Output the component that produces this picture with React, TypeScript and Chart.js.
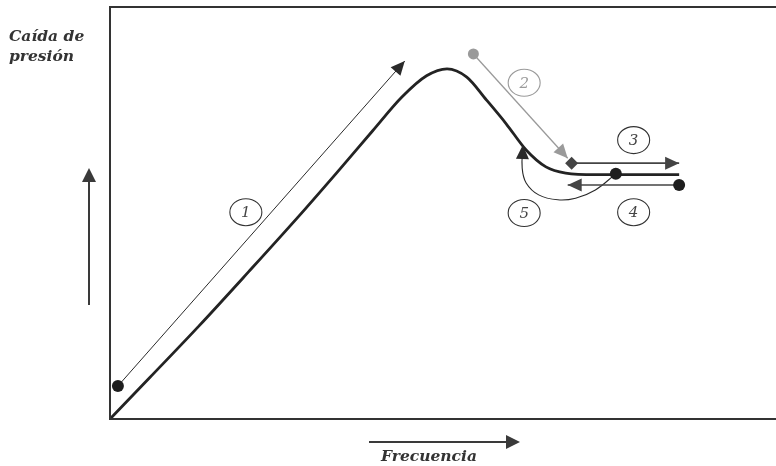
import React, { useEffect, useRef } from "react";
import { Chart, registerables } from "chart.js";

Chart.register(...registerables);

// Main curve: pressure drop vs. frequency (schematic units 0-100)
const curveFreq = [0, 6.0, 13.5, 21.0, 28.5, 34.5, 39.8, 44.3, 48.0, 51.1, 54.1, 57.1, 60.1, 63.1, 66.1, 69.1, 73.6, 86.3];
const curvePressure = [0, 10.0, 22.6, 35.7, 49.0, 60.0, 69.9, 78.2, 83.3, 85.0, 83.0, 77.4, 71.6, 65.3, 61.2, 59.7, 59.3, 59.3];

// Arrow 1 (start dot -> tip)
const arrow1Freq = [1.2, 44.7];
const arrow1Pressure = [8.0, 86.9];
// Arrow 2 (gray)
const arrow2Freq = [55.1, 69.4];
const arrow2Pressure = [88.6, 63.3];
// Arrow 3
const arrow3Freq = [70.0, 86.3];
const arrow3Pressure = [62.1, 62.1];
// Arrow 4
const arrow4Freq = [86.3, 69.4];
const arrow4Pressure = [56.8, 56.8];
// Arrow 5 (curved)
const arrow5Freq = [76.7, 73.6, 70.6, 67.9, 65.0, 63.1, 62.5, 62.6];
const arrow5Pressure = [59.5, 55.6, 53.6, 53.2, 54.4, 57.3, 60.9, 66.5];

// Black dots
const dotFreq = [1.2, 76.7, 86.3];
const dotPressure = [8.0, 59.5, 56.8];

// Step labels
const labelNames = ["1", "2", "3", "4", "5"];
const labelFreq = [20.6, 62.8, 79.4, 79.4, 62.8];
const labelPressure = [50.2, 81.6, 67.7, 50.2, 50.0];
const labelGray = [false, true, false, false, false];

const yTitle = ["Caída de", "presión"];
const xTitle = "Frecuencia";

const pts = (xs: number[], ys: number[]) => xs.map((x, i) => ({ x, y: ys[i] }));

const DARK = "#2a2a2a";
const GRAY = "#9a9a9a";
const MID = "#444444";

function head(ctx: CanvasRenderingContext2D, fx: number, fy: number, tx: number, ty: number, color: string, len = 14, hw = 6.5) {
  const a = Math.atan2(ty - fy, tx - fx);
  ctx.save();
  ctx.fillStyle = color;
  ctx.beginPath();
  ctx.moveTo(tx, ty);
  ctx.lineTo(tx - len * Math.cos(a) + hw * Math.sin(a), ty - len * Math.sin(a) - hw * Math.cos(a));
  ctx.lineTo(tx - len * Math.cos(a) - hw * Math.sin(a), ty - len * Math.sin(a) + hw * Math.cos(a));
  ctx.closePath();
  ctx.fill();
  ctx.restore();
}

const schematic = {
  id: "schematic",
  afterDatasetsDraw(chart: any) {
    const ctx: CanvasRenderingContext2D = chart.ctx;
    const xs = chart.scales.x;
    const ys = chart.scales.y;
    const px = (v: number) => xs.getPixelForValue(v);
    const py = (v: number) => ys.getPixelForValue(v);
    const ah = (fX: number[], fY: number[], color: string) => {
      const n = fX.length;
      head(ctx, px(fX[n - 2]), py(fY[n - 2]), px(fX[n - 1]), py(fY[n - 1]), color);
    };
    ah(arrow1Freq, arrow1Pressure, DARK);
    ah(arrow2Freq, arrow2Pressure, GRAY);
    ah(arrow3Freq, arrow3Pressure, MID);
    ah(arrow4Freq, arrow4Pressure, MID);
    ah(arrow5Freq, arrow5Pressure, DARK);

    // step labels
    ctx.save();
    labelNames.forEach((t, i) => {
      const cx = px(labelFreq[i]);
      const cy = py(labelPressure[i]);
      const c = labelGray[i] ? GRAY : "#333";
      ctx.beginPath();
      ctx.ellipse(cx, cy, 16, 13.5, 0, 0, Math.PI * 2);
      ctx.strokeStyle = c;
      ctx.lineWidth = 1.1;
      ctx.stroke();
      ctx.fillStyle = labelGray[i] ? GRAY : "#444";
      ctx.font = "italic 15px 'DejaVu Serif', serif";
      ctx.textAlign = "center";
      ctx.textBaseline = "middle";
      ctx.fillText(t, cx, cy + 1);
    });
    ctx.restore();
  },
  afterDraw(chart: any) {
    const ctx: CanvasRenderingContext2D = chart.ctx;
    const a = chart.chartArea;
    ctx.save();
    // frame
    ctx.strokeStyle = "#333";
    ctx.lineWidth = 2;
    ctx.beginPath();
    ctx.moveTo(chart.width, a.top);
    ctx.lineTo(a.left, a.top);
    ctx.lineTo(a.left, a.bottom);
    ctx.lineTo(chart.width, a.bottom);
    ctx.stroke();

    // axis direction arrows
    ctx.strokeStyle = "#3a3a3a";
    ctx.lineWidth = 2;
    const yx = a.left - 21;
    ctx.beginPath();
    ctx.moveTo(yx, 305);
    ctx.lineTo(yx, 178);
    ctx.stroke();
    head(ctx, yx, 305, yx, 168, "#3a3a3a", 14, 7);
    const xy = a.bottom + 23;
    ctx.beginPath();
    ctx.moveTo(369, xy);
    ctx.lineTo(510, xy);
    ctx.stroke();
    head(ctx, 369, xy, 520, xy, "#3a3a3a", 14, 7);

    // titles
    ctx.fillStyle = "#333";
    ctx.font = "bold italic 15.5px 'DejaVu Serif', serif";
    ctx.textBaseline = "middle";
    ctx.textAlign = "left";
    ctx.fillText(yTitle[0], 9, 37);
    ctx.fillText(yTitle[1], 9, 57);
    ctx.textAlign = "center";
    ctx.fillText(xTitle, 429, 457);
    ctx.restore();
  },
};

export default function App() {
  const ref = useRef<HTMLCanvasElement | null>(null);
  useEffect(() => {
    if (!ref.current) return;
    const line = (xs: number[], ys: number[], color: string, width: number, order = 2, tension = 0) => ({
      type: "line" as const,
      data: pts(xs, ys),
      borderColor: color,
      borderWidth: width,
      pointRadius: 0,
      tension,
      order,
      clip: false as any,
    });
    const chart = new Chart(ref.current, {
      type: "line",
      data: {
        datasets: [
          {
            ...line(curveFreq, curvePressure, "#232323", 2.8, 3),
            cubicInterpolationMode: "monotone",
          } as any,
          line(arrow1Freq, arrow1Pressure, DARK, 1),
          line(arrow2Freq, arrow2Pressure, GRAY, 1.3),
          line(arrow3Freq, arrow3Pressure, MID, 1.6),
          line(arrow4Freq, arrow4Pressure, MID, 1.6),
          line(arrow5Freq, arrow5Pressure, DARK, 1.1, 2, 0.4),
          {
            type: "scatter",
            data: pts(dotFreq, dotPressure),
            backgroundColor: "#1e1e1e",
            borderWidth: 0,
            pointRadius: 6,
            order: 0,
          } as any,
          {
            type: "scatter",
            data: pts([arrow2Freq[0]], [arrow2Pressure[0]]),
            backgroundColor: GRAY,
            borderWidth: 0,
            pointRadius: 5.5,
            order: 0,
          } as any,
          {
            type: "scatter",
            data: pts([arrow3Freq[0]], [arrow3Pressure[0]]),
            backgroundColor: MID,
            borderWidth: 0,
            pointStyle: "rectRot",
            pointRadius: 6.5,
            order: 0,
          } as any,
        ],
      },
      options: {
        animation: false,
        responsive: false,
        devicePixelRatio: 1,
        layout: { padding: { left: 110, top: 7, right: 0, bottom: 47 } },
        plugins: { legend: { display: false }, tooltip: { enabled: false } },
        scales: {
          x: { type: "linear", min: 0, max: 100, display: false },
          y: { type: "linear", min: 0, max: 100, display: false },
        },
      },
      plugins: [schematic],
    });
    return () => chart.destroy();
  }, []);
  return (
    <div style={{ position: "absolute", left: 0, top: 0, width: 776, height: 466, background: "#fff" }}>
      <canvas ref={ref} width={776} height={466} style={{ width: 776, height: 466 }} />
    </div>
  );
}
